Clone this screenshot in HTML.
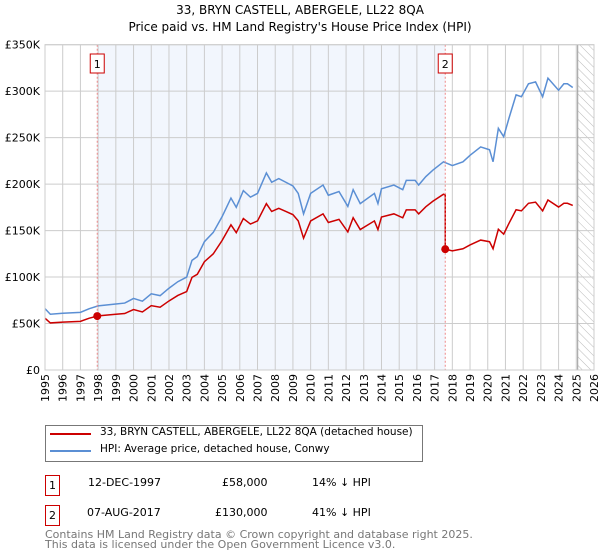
<!DOCTYPE html>
<html><head><meta charset="utf-8"><style>
body{margin:0;background:#fff;font-family:"DejaVu Sans","Liberation Sans",sans-serif;}
#wrap{position:relative;width:600px;height:560px;overflow:hidden}
.t{position:absolute;font-size:12px;color:#000;white-space:nowrap}
</style></head><body><div id="wrap">
<svg id="chart" width="600" height="420" style="position:absolute;left:0;top:0"></svg>
<div style="position:absolute;left:45px;top:425px;width:376px;height:35px;border:1px solid #777;"></div>
<div style="position:absolute;left:50px;top:433px;width:41px;height:2px;background:#cc0000"></div>
<div class="t" style="left:100px;top:426px;font-size:10.5px">33, BRYN CASTELL, ABERGELE, LL22 8QA (detached house)</div>
<div style="position:absolute;left:50px;top:450px;width:41px;height:2px;background:#5b8fd4"></div>
<div class="t" style="left:100px;top:443px;font-size:10.5px">HPI: Average price, detached house, Conwy</div>
<div style="position:absolute;left:45px;top:475px;width:13px;height:19px;border:1px solid #cc0000;font-size:11px;text-align:center;line-height:19px">1</div>
<div class="t" style="left:88px;top:476px;font-size:11px">12-DEC-1997</div>
<div class="t" style="left:222px;top:476px;font-size:11px">£58,000</div>
<div class="t" style="left:312px;top:476px;font-size:11px">14% ↓ HPI</div>
<div style="position:absolute;left:45px;top:505px;width:13px;height:19px;border:1px solid #cc0000;font-size:11px;text-align:center;line-height:19px">2</div>
<div class="t" style="left:87px;top:506px;font-size:11px">07-AUG-2017</div>
<div class="t" style="left:215px;top:506px;font-size:11px">£130,000</div>
<div class="t" style="left:312px;top:506px;font-size:11px">41% ↓ HPI</div>
<div class="t" style="left:45px;top:530px;font-size:11px;color:#777;line-height:10px">Contains HM Land Registry data © Crown copyright and database right 2025.<br>This data is licensed under the Open Government Licence v3.0.</div>
</div>
<script>
const hpiYears=[1995,1995.3,1996,1997,1997.5,1998,1999,1999.5,2000,2000.5,2001,2001.5,2002,2002.5,2003,2003.3,2003.6,2004,2004.5,2005,2005.5,2005.8,2006.2,2006.6,2007,2007.5,2007.8,2008.2,2008.6,2009,2009.3,2009.6,2010,2010.7,2011,2011.6,2012.1,2012.4,2012.8,2013.6,2013.8,2014,2014.7,2015.2,2015.4,2015.9,2016.1,2016.5,2016.9,2017.5,2018,2018.6,2019,2019.6,2020.1,2020.3,2020.6,2020.9,2021.2,2021.6,2021.9,2022.3,2022.7,2023.1,2023.4,2024,2024.3,2024.5,2024.8];
const hpiValues=[66,60,61,62,66,69,71,72,77,74,82,80,88,95,100,118,122,138,148,165,185,175,193,186,190,212,202,206,202,198,190,168,190,199,188,192,176,194,179,190,179,195,199,194,204,204,199,208,215,224,220,224,231,240,237,224,260,251,271,296,294,308,310,294,314,301,308,308,304];
const saleYears=[1997.95,2017.6];
const salePrices=[58,130];
const yTicks=[0,50,100,150,200,250,300,350];
const yTickLabels=["£0","£50K","£100K","£150K","£200K","£250K","£300K","£350K"];
const xTicks=[1995,1996,1997,1998,1999,2000,2001,2002,2003,2004,2005,2006,2007,2008,2009,2010,2011,2012,2013,2014,2015,2016,2017,2018,2019,2020,2021,2022,2023,2024,2025,2026];
const L=45,R=594,T=44.7,B=370;
const X=y=>L+(y-1995)/(2026-1995)*(R-L);
const Y=v=>B-v/350*(B-T);
const svg=document.getElementById('chart');const NS='http://www.w3.org/2000/svg';
function mk(tag,attrs,name){const e=document.createElementNS(NS,tag);for(const k in attrs)e.setAttribute(k,attrs[k]);


svg.appendChild(e);return e;}
function hpiAt(y){for(let i=0;i<hpiYears.length-1;i++){if(y<=hpiYears[i+1]){const f=(y-hpiYears[i])/(hpiYears[i+1]-hpiYears[i]);return hpiValues[i]+f*(hpiValues[i+1]-hpiValues[i]);}}return hpiValues[hpiValues.length-1];}
mk('text',{x:300,y:14,'text-anchor':'middle','font-size':12,'font-family':'DejaVu Sans,sans-serif'},'chart-title').textContent='33, BRYN CASTELL, ABERGELE, LL22 8QA';
mk('text',{x:300,y:31,'text-anchor':'middle','font-size':12,'font-family':'DejaVu Sans,sans-serif'},'chart-subtitle').textContent="Price paid vs. HM Land Registry's House Price Index (HPI)";
mk('rect',{x:X(saleYears[0]),y:T,width:X(saleYears[1])-X(saleYears[0]),height:B-T,fill:'#f2f6fd'},'ownership-shading');
const d=mk('defs',{},'hatch-defs');
d.innerHTML='<pattern id="h" width="6" height="6" patternUnits="userSpaceOnUse" patternTransform="rotate(-45)"><line x1="0" y1="0" x2="0" y2="6" stroke="#bbb" stroke-width="1"/></pattern>';
mk('rect',{x:X(2025.08),y:T,width:R-X(2025.08),height:B-T,fill:'url(#h)'},'future-hatch');
xTicks.forEach(t=>{mk('line',{x1:X(t),x2:X(t),y1:T,y2:B,stroke:'#ccc','stroke-width':1},'x-grid-'+t);
const tx=mk('text',{x:X(t)+4,y:B+4,'text-anchor':'end','font-size':11,'font-family':'DejaVu Sans,sans-serif',transform:`rotate(-90 ${X(t)+4} ${B+4})`},'x-tick-'+t);tx.textContent=t;});
yTicks.forEach((t,i)=>{mk('line',{x1:L,x2:R,y1:Y(t),y2:Y(t),stroke:'#ccc','stroke-width':1},'y-grid-'+t);
mk('text',{x:40,y:Y(t)+4,'text-anchor':'end','font-size':11,'font-family':'DejaVu Sans,sans-serif'},'y-tick-'+t).textContent=yTickLabels[i];});
mk('line',{x1:X(2025.08),x2:X(2025.08),y1:T,y2:B,stroke:'#999','stroke-width':1},'data-end-line');
mk('polyline',{points:hpiYears.map((y,i)=>X(y)+','+Y(hpiValues[i])).join(' '),fill:'none',stroke:'#5b8fd4','stroke-width':1.5},'hpi-line');
const r1=salePrices[0]/hpiAt(saleYears[0]),r2=salePrices[1]/hpiAt(saleYears[1]);
let pts=[];hpiYears.forEach((y,i)=>{if(y<saleYears[1])pts.push([y,hpiValues[i]*r1]);});
pts.push([saleYears[1],hpiAt(saleYears[1])*r1]);pts.push([saleYears[1],salePrices[1]]);
hpiYears.forEach((y,i)=>{if(y>saleYears[1])pts.push([y,hpiValues[i]*r2]);});
mk('polyline',{points:pts.map(p=>X(p[0])+','+Y(p[1])).join(' '),fill:'none',stroke:'#cc0000','stroke-width':1.5},'price-paid-line');
saleYears.forEach((s,i)=>{mk('line',{x1:X(s),x2:X(s),y1:T,y2:B,stroke:'#e88','stroke-width':1,'stroke-dasharray':'2,2'},'sale-'+(i+1)+'-marker-line');
mk('circle',{cx:X(s),cy:Y(salePrices[i]),r:4,fill:'#cc0000'},'sale-'+(i+1)+'-point');
mk('rect',{x:X(s)-7,y:54,width:14,height:19,fill:'#fff',stroke:'#cc0000'},'sale-'+(i+1)+'-label-box');
mk('text',{x:X(s),y:68,'text-anchor':'middle','font-size':11,'font-family':'DejaVu Sans,sans-serif'},'sale-'+(i+1)+'-label').textContent=i+1;});
mk('rect',{x:L,y:T,width:R-L,height:B-T,fill:'none',stroke:'#ccc'},'plot-frame');
</script></body></html>
